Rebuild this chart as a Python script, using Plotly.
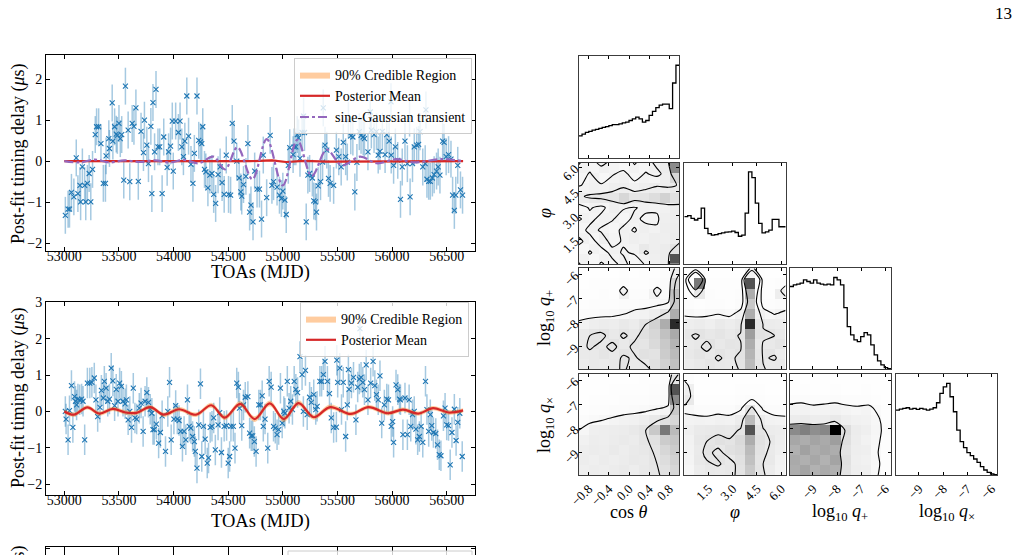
import numpy as np
import plotly.graph_objects as go

# ---------------- panel 1 data (residuals, sine-Gaussian injection) ----------------
toa1_a = [53009,53034,53047,53065,53087,53109,53124,53143,53149,53165,
          53186,53196,53211,53227,53242,53258,53283,53295,53314,53335,
          53357,53376,53382,53407,53413,53438,53444,53460,53475,53485,
          53500,53512,53525,53544,53559,53584,53599,53621,53637,53655,
          53677,53702,53724,53733,53755,53770,53792,53801,53811,53826,
          53839,53857,53873,53895,53910,53941,53954,53972,53988,53997,
          54019,54044,54059,54075,54090,54103,54121,54137,54159,54177,
          54190,54214,54230,54246,54258,54267,54283,54295,54314,54332,
          54351,54367,54385,54407,54426,54444,54463,54482,54503,54522,
          54537,54553,54578,54600,54615,54624,54640,54662,54680,54696,
          54708,54727,54742,54764,54786,54805]
res1_a = [-1.32,-1.17,-1.17,-0.76,-0.87,0.08,-0.79,-0.59,-0.99,-0.14,
          -0.59,-0.99,-0.54,-0.30,-0.99,-0.20,0.65,0.84,0.84,0.43,
          -0.54,-0.54,0.13,0.55,0.31,1.42,0.49,0.84,0.66,0.63,
          0.92,0.55,0.65,-0.46,1.83,0.76,-0.50,0.92,0.85,1.30,
          -0.49,0.73,0.21,1.00,0.39,-0.06,0.85,-0.79,1.43,0.23,
          1.75,0.35,0.35,-0.79,0.59,-0.15,0.23,0.37,0.98,-0.24,
          0.98,0.70,0.98,0.35,0.11,0.49,1.59,0.61,-0.08,-0.54,
          0.19,1.59,0.51,0.47,0.43,0.84,-0.20,-0.26,-0.65,-0.34,
          -0.30,-0.81,-1.03,-0.33,-0.14,-0.52,-0.81,0.15,-0.81,-0.83,
          0.92,0.49,0.00,-0.41,-0.75,-0.85,-0.57,-0.37,0.43,-1.24,
          -1.07,-1.48,-0.24,-0.68,-0.68,-1.41]
toa1_b = [54821,54852,54884,54900,54915,54947,54969,54987,55000,55019,
          55031,55050,55063,55094,55104,55119,55132,55144,55157,55176,
          55198,55214,55229,55245,55270,55283,55298,55308,55323,55345,
          55364,55386,55402,55418,55433,55465,55490,55512,55534,55553,
          55575,55590,55622,55641,55659,55678,55700,55716,55735,55747,
          55779,55810,55835,55857,55873,55889,55911,55936,55951,55973,
          55992,56014,56030,56052,56077,56093,56118,56140,56165,56187,
          56203,56225,56243,56256,56281,56303,56319,56335,56350,56369,
          56385,56407,56422,56438,56463,56476,56495,56517,56539,56554,
          56570,56583,56601,56626,56645]
res1_b = [0.15,-0.89,0.63,-0.59,-0.50,-0.63,-0.83,-0.91,-0.73,-0.95,
          -1.30,-0.10,0.33,0.16,0.35,0.35,0.65,0.57,0.07,0.70,
          0.70,-1.48,-0.34,-0.30,-0.41,-0.97,-0.99,-1.24,-0.60,-0.50,
          -0.02,0.39,0.27,-0.42,-0.54,-0.59,0.27,0.11,-0.14,0.46,
          0.11,-0.02,0.62,0.59,-0.75,-0.03,0.72,0.63,0.59,0.55,
          0.23,0.76,0.65,0.72,0.15,0.24,0.73,0.16,0.65,0.49,
          0.15,-0.10,0.35,0.02,-0.93,-0.14,0.49,-0.06,-0.87,-0.06,
          0.35,0.39,0.41,0.72,-0.14,-0.06,-0.44,-0.49,-0.49,-0.41,
          -0.33,-0.24,-0.14,-0.34,0.49,0.46,0.11,0.16,0.05,-0.83,
          -1.20,-0.83,-0.10,-0.70,-0.83]
toa1_c = [55190,55370,55600,55800,55990,56160,56310]
res1_c = [1.10,1.30,1.00,1.20,1.45,1.05,1.25]
err1 = 0.45

mean1_mjd = [53000,54700,54900,55030,55200,55400,56650]
mean1_val = [0.0,0.0,0.02,-0.02,0.01,-0.01,0.0]
ci1_half = 0.02

sg_mjd = [53000,53140,53280,53410,53550,53690,53830,53960,54100,54230,54364,54471,54584,
          54721,54853,54999,55133,55265,55402,55539,55707,55860,56043,56200,56450,56650]
sg_val = [0.0,-0.03,0.04,-0.03,0.02,-0.02,0.02,-0.03,0.03,-0.05,0.11,-0.20,0.34,
          -0.44,0.54,-0.59,0.52,-0.36,0.28,-0.10,0.11,-0.05,0.05,-0.03,0.05,0.0]

# ---------------- panel 2 data ----------------
toa2_a = [53009,53016,53034,53047,53065,53078,53093,53102,53112,53124,
          53140,53158,53171,53186,53211,53233,53252,53274,53289,53305,
          53326,53339,53357,53366,53382,53397,53413,53429,53444,53460,
          53475,53491,53506,53522,53537,53556,53568,53584,53599,53615,
          53631,53646,53662,53686,53702,53721,53739,53755,53770,53786,
          53801,53811,53823,53842,53863,53879,53895,53926,53947,53963,
          53978,54003,54019,54034,54050,54065,54081,54096,54112,54127,
          54143,54158,54174,54190,54199,54214,54230,54246,54258,54273,
          54289,54308,54320,54335,54351,54367,54382,54407,54422,54438,
          54463,54485,54500,54513,54525,54547,54562,54578,54593,54603,
          54624,54640,54656,54680,54696,54711,54724,54739,54755,54780,
          54795,54811]
res2_a = [0.00,-0.21,-0.78,0.02,0.71,-0.44,0.41,0.28,0.18,0.34,
          0.32,0.34,0.28,-0.78,0.78,0.78,0.80,0.92,0.32,-0.14,
          0.11,0.58,0.37,0.83,0.64,0.28,0.34,1.19,0.84,0.16,
          0.61,0.28,0.78,0.69,0.28,0.21,0.32,-0.23,0.00,-0.44,
          0.64,-0.18,-0.21,0.09,0.23,-0.55,0.28,0.52,0.25,0.06,
          -0.05,-0.50,-0.50,-0.35,-0.87,-0.58,-0.12,-1.10,0.00,0.80,
          -0.78,-0.21,0.16,-0.21,-0.25,-0.55,-0.96,-0.55,-0.78,0.32,
          -0.41,-0.46,-0.69,-0.83,-1.10,-1.56,-0.37,0.76,-1.24,-0.41,
          -0.76,-1.42,-1.28,-0.44,-0.41,-0.18,-1.06,-0.37,-0.03,-1.13,
          -0.41,-0.39,-1.42,-1.24,-0.41,-0.41,-1.01,0.78,0.67,0.09,
          -0.39,0.18,0.39,0.41,-0.60,-0.67,-0.67,-0.83,-1.10,0.18,
          0.18,0.43]
toa2_b = [54821,54837,54862,54875,54893,54915,54931,54947,54962,54978,
          54994,55009,55019,55041,55057,55072,55088,55104,55119,55135,
          55157,55176,55188,55207,55223,55245,55261,55283,55301,55314,
          55339,55355,55371,55386,55408,55427,55443,55465,55490,55502,
          55521,55537,55553,55575,55590,55606,55628,55647,55669,55685,
          55700,55716,55732,55747,55763,55779,55804,55826,55842,55857,
          55873,55889,55905,55929,55951,55967,55992,56005,56014,56036,
          56052,56068,56077,56099,56118,56140,56156,56171,56187,56203,
          56218,56234,56250,56266,56281,56306,56319,56335,56350,56363,
          56378,56400,56416,56432,56447,56470,56485,56500,56517,56532,
          56548,56570,56586,56601,56620,56642]
res2_b = [-0.41,-0.21,-1.01,0.83,0.67,-0.41,-0.46,-0.64,-0.50,0.64,
          -0.32,0.00,-0.05,0.83,0.09,0.28,0.05,0.83,0.61,0.52,
          1.51,1.01,0.00,1.13,-0.09,0.39,0.25,0.46,0.05,0.14,
          0.83,0.83,1.01,1.38,0.83,0.49,-0.18,-0.44,-0.43,0.80,
          1.19,0.05,0.80,-0.69,0.18,0.61,0.78,0.94,-0.23,0.67,
          0.89,0.94,0.80,0.60,1.28,0.32,0.78,1.38,0.71,0.46,
          0.32,0.98,-0.32,0.18,0.34,0.32,-0.41,-0.28,-0.85,0.73,
          0.60,0.34,0.32,-0.64,0.37,-0.64,0.32,-0.41,-0.09,0.00,
          -0.49,-0.78,-0.69,-0.41,-0.85,0.83,0.05,-0.55,-0.09,-0.39,
          -0.58,-0.61,-0.92,-1.19,-1.22,-0.12,0.09,-0.37,-0.39,-1.47,
          -0.58,0.06,-0.80,-0.30,-0.05,-1.24]
toa2_c = [55494,55706,55600]
res2_c = [1.41,2.28,1.15]
err2 = 0.42

mean2_mjd = [53000,53087,53211,53320,53444,53560,53660,53786,53910,54050,54205,54345,54469,54609,
             54742,54880,55009,55144,55283,55433,55622,55785,55961,56100,56240,56375,56517,56650]
mean2_val = [0.00,-0.09,0.11,-0.06,0.07,-0.03,-0.04,0.12,-0.09,0.06,-0.09,0.17,-0.17,0.21,
             -0.21,0.22,-0.21,0.23,-0.16,0.12,-0.07,0.12,-0.05,0.05,-0.06,0.09,-0.03,0.03]
ci2_half = [0.06,0.06,0.06,0.06,0.06,0.06,0.06,0.06,0.06,0.06,0.06,0.07,0.07,0.08,
            0.08,0.08,0.08,0.08,0.07,0.07,0.06,0.06,0.06,0.06,0.06,0.06,0.06,0.06]

# ---------------- corner-plot data ----------------
par_ranges = [[-1.0, 1.0], [0.0, 6.283], [-9.95, -5.76], [-9.95, -5.76]]
par_ticks = [[-0.8, -0.4, 0.0, 0.4, 0.8], [1.5, 3.0, 4.5, 6.0], [-9, -8, -7, -6], [-9, -8, -7, -6]]
par_ticktext = [["−0.8", "−0.4", "0.0", "0.4", "0.8"], ["1.5", "3.0", "4.5", "6.0"],
                ["−9", "−8", "−7", "−6"], ["−9", "−8", "−7", "−6"]]
par_labels = ["cos <i>θ</i>", "<i>φ</i>", "log<sub>10</sub> <i>q</i><sub>+</sub>",
              "log<sub>10</sub> <i>q</i><sub>×</sub>"]

hist_cos = [65,70,75,78,82,84,87,90,92,95,98,98,100,103,105,110,115,120,115,105,
            110,125,137,148,155,158,158,145,220,272]
hist_phi = [140,143,135,130,135,165,105,90,85,87,90,92,94,95,97,93,82,85,150,272,
            255,180,120,92,95,100,132,132,110,110]
hist_qp = [248,253,255,258,268,263,258,268,258,255,253,255,253,275,268,253,185,128,103,88,
           83,98,110,103,73,43,25,13,5,2]
hist_qx = [195,198,200,202,198,200,197,200,198,195,198,202,217,245,265,275,235,190,135,100,
           82,67,58,48,38,25,15,8,3,1]

# 2-D densities (rows: bottom -> top of y parameter; cols: left -> right of x parameter)
dens_cos_phi = [
    [1.3,0.9,1.3,1.1,1.4,1.0,1.3,1.5,1.8,7.0],
    [0.9,1.3,1.0,1.4,1.2,1.3,2.0,1.6,1.8,2.5],
    [1.4,1.0,1.5,1.1,1.3,1.5,1.4,1.6,1.5,1.8],
    [1.0,1.4,1.2,1.0,1.4,1.2,1.5,1.3,1.6,1.7],
    [1.3,1.1,1.4,1.3,1.0,1.4,1.1,1.2,1.5,1.6],
    [1.0,1.3,1.1,1.5,1.3,1.2,1.4,1.3,1.4,1.6],
    [1.8,2.0,2.1,2.2,3.0,2.3,2.4,2.8,3.2,2.6],
    [1.2,1.4,1.3,1.5,1.6,1.4,1.6,1.8,1.6,2.0],
    [1.0,1.3,0.9,1.2,1.4,1.0,1.3,1.1,1.5,3.0],
    [1.3,1.0,1.4,1.1,0.9,1.3,1.0,1.4,1.8,5.5]]
dens_cos_qp = [
    [1.8,2.0,1.9,2.1,2.4,2.0,2.1,2.6,3.2,3.8],
    [1.9,2.0,2.3,2.0,2.4,2.2,2.6,2.5,3.4,4.0],
    [2.0,2.4,2.1,2.5,2.0,2.5,2.3,2.9,3.5,4.2],
    [1.9,2.3,2.5,2.0,2.4,2.1,2.7,3.0,3.8,4.6],
    [1.3,1.6,1.8,1.7,2.0,1.8,2.3,3.2,4.5,8.0],
    [0.4,0.5,0.6,0.7,0.9,1.2,1.3,1.6,2.5,4.5],
    [0.2,0.3,0.3,0.3,0.4,0.5,0.6,0.7,0.9,3.5],
    [0.2,0.2,0.3,0.2,1.4,0.3,0.3,1.3,0.5,3.8],
    [0.1,0.2,0.2,0.2,0.3,0.2,0.2,0.3,0.4,3.0],
    [0.1,0.1,0.1,0.1,0.2,0.1,0.2,0.2,0.3,1.5]]
dens_phi_qp = [
    [1.8,2.0,2.2,2.0,1.9,2.4,4.0,2.4,1.9,2.0],
    [2.0,2.3,2.0,2.4,2.1,2.5,4.2,2.2,2.4,1.8],
    [1.9,2.1,2.5,2.0,2.3,2.2,4.5,2.1,2.0,2.3],
    [2.1,2.4,2.1,2.3,2.0,2.4,5.0,2.5,2.3,2.0],
    [1.6,1.8,1.5,1.9,1.7,2.0,8.0,2.2,1.8,1.7],
    [0.8,0.6,0.8,0.9,0.7,1.3,4.5,1.4,0.9,1.2],
    [0.3,0.2,0.3,0.3,0.2,0.4,3.5,0.5,0.3,0.4],
    [0.2,2.0,0.3,0.2,0.2,0.3,4.5,0.3,0.2,1.6],
    [0.2,6.0,0.2,0.2,0.2,0.2,7.0,0.3,0.2,0.3],
    [0.1,0.3,0.1,0.1,0.1,0.1,1.2,0.2,0.1,0.1]]
dens_cos_qx = [
    [1.5,1.7,1.6,1.8,1.9,1.7,2.0,2.2,2.6,3.0],
    [1.7,1.5,1.8,1.6,1.8,2.0,1.9,2.3,2.8,3.2],
    [1.6,1.8,1.7,1.9,1.7,1.9,2.1,2.4,3.0,3.4],
    [1.4,1.7,1.6,1.8,1.9,1.8,2.2,2.6,3.4,3.6],
    [1.0,1.5,1.6,1.7,1.8,2.0,2.3,3.5,6.0,4.0],
    [0.4,0.7,0.9,1.1,1.3,1.4,1.6,2.0,2.6,3.0],
    [0.2,0.3,0.3,0.4,0.5,0.6,0.7,0.9,1.1,3.5],
    [0.1,0.2,0.2,0.2,0.3,0.3,0.3,0.4,0.6,5.5],
    [0.1,0.1,0.1,0.2,0.2,0.2,0.2,0.3,0.4,7.0],
    [0.1,0.1,0.1,0.1,0.1,0.1,0.2,0.2,0.3,2.5]]
dens_phi_qx = [
    [1.0,1.8,2.0,1.9,2.1,2.5,3.5,2.4,1.8,1.2],
    [1.1,2.0,2.2,2.4,2.0,2.6,3.8,2.3,2.0,1.3],
    [1.2,1.9,2.5,2.1,2.6,2.8,4.0,2.5,1.9,1.5],
    [1.3,2.1,2.3,2.6,2.4,2.9,4.5,2.6,2.1,1.6],
    [1.5,1.9,2.0,2.1,2.0,2.4,7.0,2.4,1.8,1.7],
    [1.2,1.3,1.2,1.4,1.3,1.8,4.0,1.8,1.3,1.2],
    [0.8,0.4,0.4,0.5,0.4,0.8,2.5,0.8,0.4,0.4],
    [2.0,0.2,0.2,0.2,0.2,0.3,0.5,0.3,0.2,0.2],
    [1.5,0.1,0.1,0.1,0.1,0.2,0.2,0.2,0.1,0.1],
    [0.3,0.1,0.1,0.1,0.1,0.1,0.1,0.1,0.1,0.1]]
dens_qp_qx = [
    [4.5,4.8,4.3,4.6,4.4,2.5,1.6,1.5,0.8,0.2],
    [4.6,4.4,4.7,4.3,4.8,2.6,1.5,1.4,0.9,0.2],
    [4.4,4.9,4.5,4.7,4.5,2.4,1.6,1.5,0.8,0.2],
    [4.7,4.5,4.8,4.6,5.0,2.7,1.7,1.3,0.9,0.2],
    [5.5,5.8,5.4,5.6,9.0,2.8,1.8,1.5,1.0,0.3],
    [1.8,1.9,1.7,1.8,2.0,1.6,1.4,1.3,0.9,0.2],
    [1.2,1.3,1.1,1.2,1.3,1.1,1.0,1.1,0.6,0.2],
    [0.3,0.4,0.3,0.3,0.4,0.3,0.3,0.3,0.2,0.1],
    [0.1,0.2,0.1,0.1,0.2,0.1,0.1,0.2,0.1,0.1],
    [0.1,0.1,0.1,0.1,0.1,0.1,0.1,0.1,0.1,0.1]]
contour_levels = {(1, 0): (1.25, 1.9), (2, 0): (1.0, 2.3), (2, 1): (1.0, 2.3),
                  (3, 0): (1.0, 2.3), (3, 1): (1.0, 2.3), (3, 2): (0.9, 3.5)}

# ---------------- figure ----------------
W, H = 1018, 555
FONT = "Liberation Serif, Times New Roman, DejaVu Serif, serif"
C0 = "#1f77b4"
RED = "#d62728"
PURPLE = "#9467bd"
BAND = "rgba(255,127,14,0.4)"


def fx(p):
    return p / W


def fy(p):
    return 1 - p / H


fig = go.Figure()
layout = {}


def frame_axis(**kw):
    d = dict(showline=True, linecolor="black", linewidth=1, mirror="allticks", ticks="inside",
             ticklen=4, tickwidth=1, tickcolor="black", showgrid=False, zeroline=False,
             automargin=False, tickfont=dict(family=FONT, size=14, color="black"))
    d.update(kw)
    return d


def add_points(x, y, err, ax):
    fig.add_trace(go.Scatter(
        x=x, y=y, mode="markers", xaxis="x" + ax, yaxis="y" + ax, showlegend=False,
        marker=dict(symbol="x-thin", size=5, color=C0, line=dict(width=1.1, color=C0)),
        error_y=dict(type="constant", value=err, thickness=1.5, width=0,
                     color="rgba(31,119,180,0.4)")))


def add_band(mjd, mean, half, ax, legend):
    half = np.broadcast_to(np.asarray(half, dtype=float), (len(mean),))
    lo = np.asarray(mean) - half
    hi = np.asarray(mean) + half
    fig.add_trace(go.Scatter(x=mjd, y=lo, mode="lines", line=dict(width=0, shape="spline"),
                             xaxis="x" + ax, yaxis="y" + ax, showlegend=False, hoverinfo="skip"))
    fig.add_trace(go.Scatter(x=mjd, y=hi, mode="lines", line=dict(width=0, shape="spline"),
                             fill="tonexty", fillcolor=BAND, name="90% Credible Region",
                             xaxis="x" + ax, yaxis="y" + ax, legend=legend))


# panel 1
add_points(toa1_a + toa1_b + toa1_c, res1_a + res1_b + res1_c, err1, "")
add_band(mean1_mjd, mean1_val, ci1_half, "", "legend")
fig.add_trace(go.Scatter(x=mean1_mjd, y=mean1_val, mode="lines", name="Posterior Mean",
                         line=dict(color=RED, width=2.2), legend="legend"))
fig.add_trace(go.Scatter(x=sg_mjd, y=sg_val, mode="lines", name="sine-Gaussian transient",
                         line=dict(color=PURPLE, width=2.2, dash="dashdot", shape="spline", smoothing=1.0),
                         legend="legend"))

# panel 2
add_points(toa2_a + toa2_b + toa2_c, res2_a + res2_b + res2_c, err2, "2")
add_band(mean2_mjd, mean2_val, ci2_half, "2", "legend2")
fig.add_trace(go.Scatter(x=mean2_mjd, y=mean2_val, mode="lines", name="Posterior Mean",
                         xaxis="x2", yaxis="y2", legend="legend2",
                         line=dict(color=RED, width=2.2, shape="spline", smoothing=1.0)))

xr = [52832, 56759]
xt = list(range(53000, 56501, 500))
layout["xaxis"] = frame_axis(domain=[fx(46), fx(475)], range=xr, tickvals=xt, tickformat="d",
                             anchor="y", ticklabelstandoff=-8)
layout["yaxis"] = frame_axis(domain=[fy(251), fy(55)], range=[-2.19, 2.59], tickvals=[-2, -1, 0, 1, 2], anchor="x")
layout["xaxis2"] = frame_axis(domain=[fx(46), fx(475)], range=xr, tickvals=xt, tickformat="d",
                              anchor="y2", ticklabelstandoff=-8)
layout["yaxis2"] = frame_axis(domain=[fy(495), fy(301.7)], range=[-2.30, 3.02], tickvals=[-2, -1, 0, 1, 2, 3], anchor="x2")
# third (cut-off) panel
fig.add_trace(go.Scatter(x=[xr[0]], y=[1.9], mode="markers", marker=dict(opacity=0),
                         xaxis="x3", yaxis="y3", showlegend=False, hoverinfo="skip"))
layout["xaxis3"] = frame_axis(domain=[fx(46), fx(475)], range=xr, tickvals=xt, showticklabels=False, anchor="y3")
layout["yaxis3"] = frame_axis(domain=[0, fy(547)], range=[1.83, 2.055], tickvals=[2], anchor="x3")

# corner plot
col_px = [(578.7, 679.3), (684.3, 785.7), (790.0, 891.0), (896.0, 997.3)]
row_px = [(56.0, 158.0), (162.7, 264.0), (268.3, 369.3), (374.3, 475.0)]
hists = [hist_cos, hist_phi, hist_qp, hist_qx]
dens = {(1, 0): dens_cos_phi, (2, 0): dens_cos_qp, (2, 1): dens_phi_qp,
        (3, 0): dens_cos_qx, (3, 1): dens_phi_qx, (3, 2): dens_qp_qx}
gray = [[0, "rgb(255,255,255)"], [0.1, "rgb(247,247,247)"], [0.3, "rgb(224,224,224)"],
        [0.55, "rgb(160,160,160)"], [0.8, "rgb(75,75,75)"], [1, "rgb(0,0,0)"]]

n = 4
for r in range(4):
    for c in range(r + 1):
        ax = str(n)
        xs = dict(domain=[fx(col_px[c][0]), fx(col_px[c][1])], range=par_ranges[c],
                  tickvals=par_ticks[c], ticktext=par_ticktext[c], anchor="y" + ax,
                  showticklabels=(r == 3), tickangle=-45, ticklen=3,
                  linecolor="rgb(60,60,60)", linewidth=1.3,
                  tickfont=dict(family=FONT, size=13, color="black"))
        if r == c:
            vals = hists[c]
            edges = np.linspace(par_ranges[c][0], par_ranges[c][1], len(vals) + 1)
            fig.add_trace(go.Scatter(x=list(edges), y=list(vals) + [vals[-1]], mode="lines",
                                     line=dict(color="black", width=1.3, shape="hv"),
                                     xaxis="x" + ax, yaxis="y" + ax, showlegend=False, hoverinfo="skip"))
            ys = dict(domain=[fy(row_px[r][1]), fy(row_px[r][0])], range=[0, 1.1 * max(vals)],
                      showticklabels=False, ticks="", anchor="x" + ax,
                      linecolor="rgb(60,60,60)", linewidth=1.3)
        else:
            z = dens[(r, c)]
            nx, ny = len(z[0]), len(z)
            ex = np.linspace(par_ranges[c][0], par_ranges[c][1], nx + 1)
            ey = np.linspace(par_ranges[r][0], par_ranges[r][1], ny + 1)
            cx = (ex[:-1] + ex[1:]) / 2
            cy = (ey[:-1] + ey[1:]) / 2
            fig.add_trace(go.Heatmap(x=cx, y=cy, z=z, colorscale=gray, zmin=0, zmax=9, showscale=False,
                                     zsmooth=False, xaxis="x" + ax, yaxis="y" + ax, hoverinfo="skip"))
            l1, l2 = contour_levels[(r, c)]
            fig.add_trace(go.Contour(x=np.linspace(par_ranges[c][0], par_ranges[c][1], nx),
                                     y=np.linspace(par_ranges[r][0], par_ranges[r][1], ny), z=z,
                                     contours=dict(start=l1, end=l2, size=l2 - l1, coloring="lines"),
                                     colorscale=[[0, "black"], [1, "black"]], showscale=False,
                                     line=dict(width=1.1, smoothing=0.7),
                                     xaxis="x" + ax, yaxis="y" + ax, hoverinfo="skip"))
            ys = dict(domain=[fy(row_px[r][1]), fy(row_px[r][0])], range=par_ranges[r],
                      tickvals=par_ticks[r], ticktext=par_ticktext[r], anchor="x" + ax,
                      showticklabels=(c == 0), tickangle=-45, ticklen=3,
                      linecolor="rgb(60,60,60)", linewidth=1.3,
                      tickfont=dict(family=FONT, size=13, color="black"))
        layout["xaxis" + ax] = frame_axis(**xs)
        layout["yaxis" + ax] = frame_axis(**ys)
        n += 1


def label(x, y, text, size, angle=0):
    return dict(x=fx(x), y=fy(y), text=text, textangle=angle, showarrow=False,
                xref="paper", yref="paper", xanchor="center", yanchor="middle",
                font=dict(family=FONT, size=size, color="black"))


ann = []
ytitle = "Post-fit timing delay (<i>μ</i>s)"
for yc in (154, 398, 636):
    ann.append(label(18, yc, ytitle, 18, -90))
for yc in (272, 521):
    ann.append(label(260.5, yc, "TOAs (MJD)", 18.5))
xlab_x = [629, 735, 840, 947]
for i, lab in enumerate(par_labels):
    ann.append(label(xlab_x[i], 512, lab, 18))
ylab_y = [213, 318, 425]
for i, lab in enumerate(par_labels[1:]):
    ann.append(label(545, ylab_y[i], lab, 18, -90))
ann.append(label(1003, 14, "13", 17))

legend_style = dict(bgcolor="rgba(255,255,255,0.8)", bordercolor="rgb(204,204,204)", borderwidth=1,
                    font=dict(family=FONT, size=14, color="black"), xanchor="right", yanchor="top",
                    xref="paper", yref="paper", tracegroupgap=0, traceorder="normal")
layout["legend"] = dict(x=fx(472), y=fy(58), **legend_style)
layout["legend2"] = dict(x=fx(469), y=fy(302), **legend_style)

fig.update_layout(
    width=W, height=H, margin=dict(l=0, r=0, t=0, b=0, autoexpand=False),
    paper_bgcolor="white", plot_bgcolor="white",
    font=dict(family=FONT, color="black"),
    annotations=ann,
    shapes=[dict(type="rect", xref="paper", yref="paper", x0=fx(288), x1=fx(472), y0=fy(600), y1=fy(551),
                 line=dict(color="rgb(204,204,204)", width=1), fillcolor="rgba(255,255,255,0.8)")],
    **layout)

fig.write_html("out.html")
